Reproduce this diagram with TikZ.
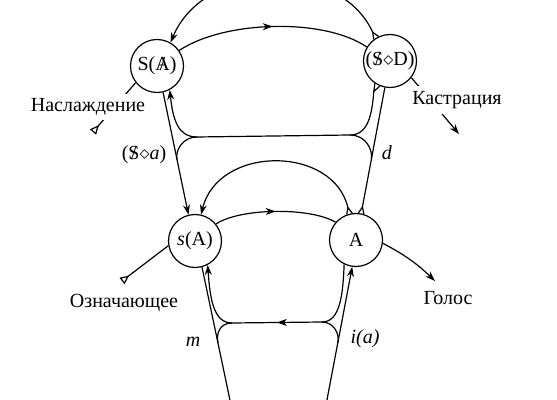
\documentclass[tikz,border=0pt]{standalone}
\usepackage{fontspec}
\setmainfont{Liberation Serif}
\usetikzlibrary{arrows.meta,calc,decorations.markings}

\newcommand{\barred}[1]{\ooalign{#1\cr\hidewidth/\hidewidth\cr}}

\tikzset{
  vertex/.style={circle,draw,minimum size=26.5pt,inner sep=0pt,font=\fontsize{10}{12}\selectfont},
  lbl/.style={font=\fontsize{10}{12}\selectfont,inner sep=1pt},
  cut/.style={lbl,fill=white,inner sep=2.5pt},
  tip/.style={-{Stealth[length=5pt,width=3.5pt]}},
  hollow/.style={-{Triangle[open,reversed,length=4.5pt,width=4pt]}},
  midtip/.style={postaction={decorate},decoration={markings,mark=at position 0.5 with {\arrow{Stealth[length=5pt,width=3.5pt]}}}}
}

\begin{document}
\begin{tikzpicture}[x=0.5pt,y=-0.5pt,line width=0.6pt]
\useasboundingbox (0,0) rectangle (557,400);
\clip (0,0) rectangle (557,400);
% circles
\node[vertex] (SA) at (157,66) {S(\barred{A})};
\node[vertex] (SD) at (390,61) {(\barred{S}$\diamond$D)};
\node[vertex] (sA) at (195,241) {\textit{s}(A)};
\node[vertex] (A) at (356,240) {A};
% fork points
\coordinate (fk1) at ($(SD)+(121:16.75pt)$);
\coordinate (fk2) at ($(SD)+(-118:17.25pt)$);
\coordinate (fk3) at ($(A)+(104:16.75pt)$);
\coordinate (fk4) at ($(A)+(79:16.75pt)$);
% junctions of the bars
\coordinate (ul) at (197,137);
\coordinate (ur) at (350,135);
\coordinate (ll) at (232,323);
\coordinate (lr) at (322,322);
\coordinate (bl) at (231,405);
\coordinate (br) at (326,405);
\coordinate (m1) at ($(SA.-77)!0.55!(sA.104.5)$);
\coordinate (m2) at ($(SD.-101)!0.6!(fk4)$);
\coordinate (m3) at ($(sA.-75)!0.55!(bl)$);
\coordinate (m4) at ($(br)!0.45!(A.-98)$);
% wedges
\draw (SD.127) -- (fk1) -- (SD.115);
\draw (SD.-124) -- (fk2) -- (SD.-112);
\draw (A.110) -- (fk3) -- (A.98);
\draw (A.85) -- (fk4) -- (A.73);
% upper level
\draw[midtip] (SA.35) .. controls (225,20) and (325,18) .. (SD.149);
\draw[tip] (fk1) .. controls (340,-40) and (205,-40) .. (SA.60);
\draw[tip] (SA.-77) -- (sA.104.5);
\draw (SD.-101) -- (fk4);
% upper bar
\draw (ul) -- (ur);
\draw[tip] (ul) .. controls (178,137) and (173,120) .. (SA.-62);
\draw (ul) .. controls (183,137) and (175,150) .. (m1);
\draw (ur) .. controls (368,135) and (372,115) .. (fk2);
\draw (ur) .. controls (366,135) and (373,150) .. (m2);
% lower level
\draw[midtip] (sA.39) .. controls (240,208) and (310,207) .. (A.139);
\draw[tip] (fk3) .. controls (333,145) and (218,145) .. (sA.77.5);
\draw (sA.-75) -- (bl);
\draw[tip] (br) -- (A.-98);
% lower bar
\draw[midtip] (lr) -- (ll);
\draw[tip] (ll) .. controls (214,323) and (210,300) .. (sA.-62.5);
\draw (ll) .. controls (220,323) and (216,333) .. (m3);
\draw (lr) .. controls (340,322) and (343,295) .. (A.-116);
\draw (lr) .. controls (333,322) and (340,333) .. (m4);
% outlets
\coordinate (jend) at (93,132);
\coordinate (cend) at (459,134);
\coordinate (send) at (122,281);
\coordinate (vend) at (435,281);
\draw[hollow] (SA.-142) -- (jend);
\node[cut] (jouis) at (88,107) {Наслаждение};
\draw[tip] (SD.-38) -- (cend);
\node[cut] (castr) at (457,100) {Кастрация};
\draw[hollow] (sA.-170) -- (send);
\node[lbl] (signif) at (124,303) {Означающее};
\draw[tip] (A.-7) to[bend left=8] (vend);
\node[lbl] (voice) at (448,298) {Голос};
% labels
\node[lbl] (sa) at (144,155) {(\barred{S}$\diamond$\textit{a})};
\node[lbl] (dd) at (387,153) {\textit{d}};
\node[lbl] (mm) at (193,342) {\textit{m}};
\node[lbl] (ia) at (365,339) {\textit{i(a)}};
\end{tikzpicture}
\end{document}
